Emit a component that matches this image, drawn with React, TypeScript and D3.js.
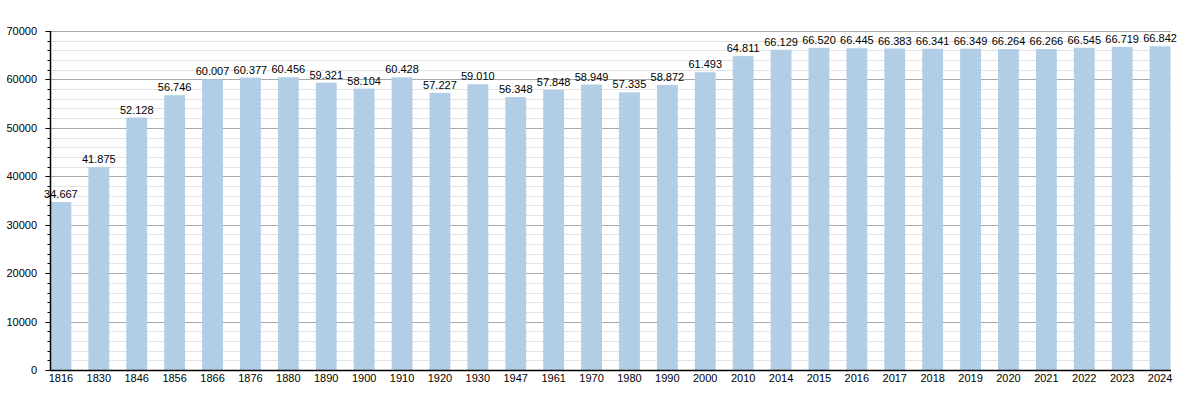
import React from "react";
import * as d3 from "d3";

const years = ["1816","1830","1846","1856","1866","1876","1880","1890","1900","1910","1920","1930","1947","1961","1970","1980","1990","2000","2010","2014","2015","2016","2017","2018","2019","2020","2021","2022","2023","2024"];
const population = [34667,41875,52128,56746,60007,60377,60456,59321,58104,60428,57227,59010,56348,57848,58949,57335,58872,61493,64811,66129,66520,66445,66383,66341,66349,66264,66266,66545,66719,66842];
const majorTicks = [0,10000,20000,30000,40000,50000,60000,70000];

const W = 1200, H = 400;
const left = 50.5, right = 1171, top = 31, bottom = 370;

export default function App() {
  const x = d3.scaleBand<string>().domain(years).range([left, 1170.5]).paddingInner(0.45).paddingOuter(0);
  const y = d3.scaleLinear().domain([0, 70000]).range([bottom, top]);
  const minor = d3.range(0, 70001, 2000).filter(v => v % 10000 !== 0);
  const fmt = (v: number) => {
    const s = String(v);
    return s.slice(0, s.length - 3) + "." + s.slice(-3);
  };
  const font = "'Liberation Sans', Arial, sans-serif";
  return (
    <svg width={W} height={H} style={{ position: "absolute", left: 0, top: 0, background: "#fff" }} fontFamily={font}>
      <rect x={0} y={0} width={W} height={H} fill="#fff" />
      {minor.map(v => (
        <line key={"m" + v} x1={left} x2={right} y1={Math.round(y(v)) + 0.5} y2={Math.round(y(v)) + 0.5} stroke="#e3e3e3" strokeWidth={1} />
      ))}
      {majorTicks.filter(v => v > 0).map(v => (
        <line key={"g" + v} x1={left} x2={right} y1={Math.round(y(v)) + 0.5} y2={Math.round(y(v)) + 0.5} stroke="#a8a8a8" strokeWidth={1} />
      ))}
      {years.map((yr, i) => (
        <rect key={yr} x={x(yr)} y={y(population[i])} width={x.bandwidth()} height={bottom - y(population[i])} fill="#b2cde6" />
      ))}
      {years.map((yr, i) => (
        <text key={"v" + yr} x={(x(yr) as number) + x.bandwidth() / 2} y={y(population[i]) - 4} textAnchor="middle" fontSize={11} fill="#000">{fmt(population[i])}</text>
      ))}
      {/* y axis */}
      <line x1={left} x2={left} y1={top} y2={bottom + 0.5} stroke="#000" strokeWidth={1.5} />
      <line x1={left} x2={right} y1={bottom + 0.5} y2={bottom + 0.5} stroke="#000" strokeWidth={1.5} />
      {minor.map(v => (
        <line key={"mt" + v} x1={left - 3} x2={left} y1={Math.round(y(v)) + 0.5} y2={Math.round(y(v)) + 0.5} stroke="#000" strokeWidth={1} />
      ))}
      {majorTicks.map(v => (
        <line key={"t" + v} x1={left - 5} x2={left} y1={Math.round(y(v)) + 0.5} y2={Math.round(y(v)) + 0.5} stroke="#000" strokeWidth={1} />
      ))}
      {majorTicks.map(v => (
        <text key={"tl" + v} x={37} y={y(v) + 4} textAnchor="end" fontSize={11} fill="#000">{v}</text>
      ))}
      {years.map(yr => (
        <text key={"xl" + yr} x={(x(yr) as number) + x.bandwidth() / 2} y={382} textAnchor="middle" fontSize={11} fill="#000">{yr}</text>
      ))}
    </svg>
  );
}
